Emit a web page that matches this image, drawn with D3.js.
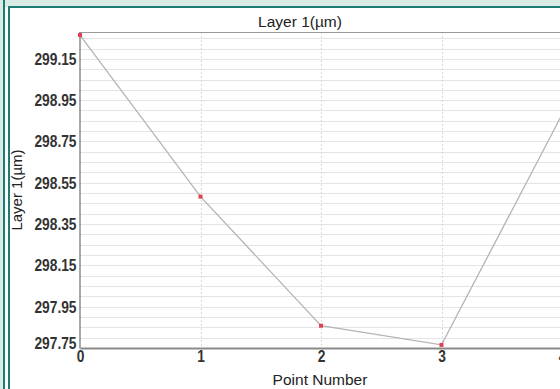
<!DOCTYPE html>
<html>
<head>
<meta charset="utf-8">
<script src="https://cdn.jsdelivr.net/npm/d3@7"></script>
<style>
  body { margin: 0; background: #fff; }
  svg { display: block; }
</style>
</head>
<body>
<svg id="chart" width="560" height="389"></svg>
<script>
// values
const pointNumbers = [0, 1, 2, 3, 4];
const layerValues = [299.265, 298.483, 297.858, 297.765, 298.88];
const yTickValues = [297.75, 297.95, 298.15, 298.35, 298.55, 298.75, 298.95, 299.15];
const xTickValues = [0, 1, 2, 3, 4];

const svg = d3.select('#chart');
const W = 560, H = 389;
const plotLeft = 79, plotRight = 562, plotTop = 32, plotBottom = 348;

// frame
svg.append('rect').attr('width', W).attr('height', H).attr('fill', '#fff');
svg.append('rect').attr('width', W).attr('height', 7).attr('fill', '#d9ebe4');
svg.append('rect').attr('width', 3).attr('height', H).attr('fill', '#d9ebe4');
svg.append('rect').attr('x', 8).attr('y', 6).attr('width', W).attr('height', 2).attr('fill', '#1b7c72');
svg.append('rect').attr('x', 3).attr('y', 0).attr('width', 2).attr('height', H).attr('fill', '#1b7c72');
svg.append('rect').attr('x', 8).attr('y', 6).attr('width', 2).attr('height', H).attr('fill', '#1b7c72');

const x = d3.scaleLinear().domain([0, 4]).range([plotLeft + 1, plotRight]);
const y = d3.scaleLinear().domain([297.75, 299.28]).range([plotBottom, plotTop]);

// minor horizontal grid every 0.05
const minor = d3.range(0, 31).map(i => 297.75 + i * 0.05).filter(v => v <= 299.28);
svg.append('g').selectAll('line').data(minor).enter().append('line')
  .attr('x1', plotLeft).attr('x2', W)
  .attr('y1', d => Math.round(y(d)) + 0.5).attr('y2', d => Math.round(y(d)) + 0.5)
  .attr('stroke', '#e4e4e4').attr('stroke-width', 1);

// vertical grid
svg.append('g').selectAll('line').data(xTickValues.slice(1)).enter().append('line')
  .attr('x1', d => Math.round(x(d)) + 0.5).attr('x2', d => Math.round(x(d)) + 0.5)
  .attr('y1', plotTop).attr('y2', plotBottom)
  .attr('stroke', '#d8d8d8').attr('stroke-dasharray', '2,2');

// plot border top
svg.append('line').attr('x1', plotLeft).attr('x2', W).attr('y1', plotTop + 0.5).attr('y2', plotTop + 0.5)
  .attr('stroke', '#9a9a9a').attr('stroke-width', 1.2);

// condensed look: squeeze bold glyphs horizontally
const squeeze = sel => sel.each(function() {
  const len = this.getComputedTextLength();
  d3.select(this).attr('textLength', len * 0.86).attr('lengthAdjust', 'spacingAndGlyphs');
});

// axes
const yAxis = d3.axisLeft(y).tickValues(yTickValues).tickSize(0).tickPadding(3)
  .tickFormat(d3.format('.2f'));
const gy = svg.append('g').attr('transform', `translate(${plotLeft + 0.5},0)`).call(yAxis);
gy.select('.domain').attr('stroke', '#707070').attr('stroke-width', 1.2);
gy.selectAll('text')
  .attr('dy', d => d === 297.75 ? '0.05em' : '0.34em')
  .attr('fill', '#333')
  .style('font-family', '"Liberation Sans", Arial, sans-serif')
  .style('font-weight', 'bold').style('font-size', '16px')
  .call(squeeze);

const xAxis = d3.axisBottom(x).tickValues(xTickValues).tickSize(0).tickPadding(3)
  .tickFormat(d3.format('d'));
const gx = svg.append('g').attr('transform', `translate(0,${plotBottom})`).call(xAxis);
gx.select('.domain').attr('stroke', '#8a8a8a').attr('stroke-width', 2);
gx.selectAll('text')
  .attr('fill', '#333')
  .style('font-family', '"Liberation Sans", Arial, sans-serif')
  .style('font-weight', 'bold').style('font-size', '16px')
  .call(squeeze);

// series
const pts = pointNumbers.map((p, i) => ({ p, v: layerValues[i] }));
const line = d3.line().x(d => x(d.p)).y(d => y(d.v));
svg.append('path').datum(pts).attr('d', line)
  .attr('fill', 'none').attr('stroke', '#b4b4b4').attr('stroke-width', 1.3);
svg.append('g').selectAll('rect').data(pts).enter().append('rect')
  .attr('x', d => x(d.p) - 2).attr('y', d => y(d.v) - 2)
  .attr('width', 4).attr('height', 4).attr('fill', '#e0404f');

// titles
svg.append('text').attr('x', 300).attr('y', 27).attr('text-anchor', 'middle')
  .style('font-family', '"Liberation Sans", Arial, sans-serif').style('font-size', '15.5px')
  .attr('fill', '#222').text('Layer 1(µm)');
svg.append('text').attr('x', 320).attr('y', 385).attr('text-anchor', 'middle')
  .style('font-family', '"Liberation Sans", Arial, sans-serif').style('font-size', '15.5px')
  .attr('fill', '#222').text('Point Number');
svg.append('text').attr('transform', 'translate(22,190) rotate(-90)').attr('text-anchor', 'middle')
  .style('font-family', '"Liberation Sans", Arial, sans-serif').style('font-size', '15px')
  .attr('fill', '#222').text('Layer 1(µm)');
</script>
</body>
</html>
